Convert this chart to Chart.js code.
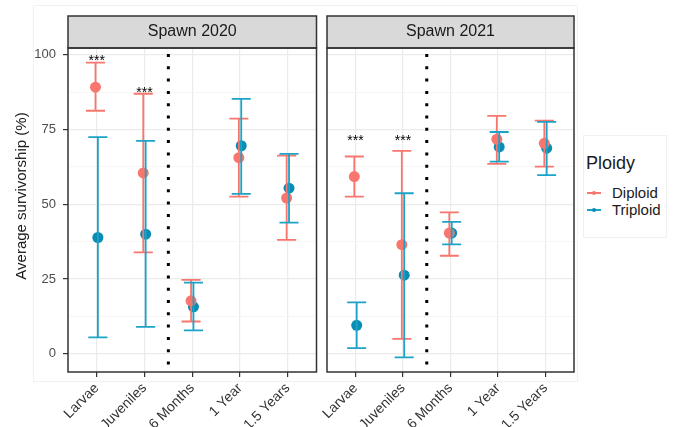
<!DOCTYPE html>
<html>
<head>
<meta charset="utf-8">
<script src="https://cdn.jsdelivr.net/npm/chart.js@4/dist/chart.umd.min.js"></script>
<style>
  body { margin: 0; background: #fff; width: 678px; height: 427px; overflow: hidden; position: relative;
         font-family: "Liberation Sans", Arial, sans-serif; }
  canvas { position: absolute; top: 0; }
  #c1 { left: 0; }
  #c2 { left: 259px; }
  #frame { position: absolute; left: 33px; top: 5px; width: 543px; height: 375px; border: 1px solid #f1f1f1; }
  #ytitle { position: absolute; left: -79px; top: 187px; width: 200px; text-align: center; font-size: 15px;
            color: #1a1a1a; transform: rotate(-90deg); line-height: 18px; }
  #legend { position: absolute; left: 583px; top: 135px; width: 82px; height: 101px; border: 1px solid #f1f1f1; }
  #legend .ttl { position: absolute; left: 2px; top: 17px; font-size: 18px; color: #1a1a1a; }
  #legend .row { position: absolute; left: 3px; height: 18px; width: 80px; }
  #legend .key { position: absolute; left: 0; top: 8px; width: 14px; height: 2px; }
  #legend .dot { position: absolute; left: 5px; top: 7px; width: 4px; height: 4px; border-radius: 50%; }
  #legend .lab { position: absolute; left: 25px; top: 0; font-size: 15px; color: #1a1a1a; line-height: 18px; }
</style>
</head>
<body>
<div id="frame"></div>
<canvas id="c1" width="322" height="427"></canvas>
<canvas id="c2" width="321" height="427"></canvas>
<div id="ytitle">Average survivorship (%)</div>
<div id="legend">
  <div class="ttl">Ploidy</div>
  <div class="row" style="top:48px"><div class="key" style="background:#F8766D"></div><div class="dot" style="background:#F8766D"></div><div class="lab">Diploid</div></div>
  <div class="row" style="top:65px"><div class="key" style="background:#1CA3C7"></div><div class="dot" style="background:#0A8DB5"></div><div class="lab">Triploid</div></div>
</div>
<script>
// categories and tick values
const stages = ['Larvae', 'Juveniles', '6 Months', '1 Year', '1.5 Years'];
const yTicks = [0, 12.5, 25, 37.5, 50, 62.5, 75, 87.5, 100];
const yMajor = [0, 25, 50, 75, 100];

// Spawn 2020 (mean, lower, upper)
const diploid2020   = [89.2, 60.5, 17.7, 65.6, 52.1];
const diploid2020Lo = [81.3, 33.9, 10.8, 52.6, 38.1];
const diploid2020Hi = [97.4, 87.0, 24.7, 78.7, 66.3];
const triploid2020   = [38.9, 40.0, 15.7, 69.6, 55.4];
const triploid2020Lo = [5.5, 9.0, 7.8, 53.5, 43.9];
const triploid2020Hi = [72.5, 71.2, 23.8, 85.3, 66.9];
const sig2020  = ['***', '***', '', '', ''];
const sigY2020 = [99.3, 88.6, 0, 0, 0];

// Spawn 2021
const diploid2021   = [59.3, 36.5, 40.4, 71.8, 70.4];
const diploid2021Lo = [52.6, 5.0, 32.8, 63.5, 62.6];
const diploid2021Hi = [66.0, 67.9, 47.3, 79.6, 78.0];
const triploid2021   = [9.5, 26.3, 40.4, 69.2, 68.8];
const triploid2021Lo = [1.9, -1.2, 36.6, 64.3, 59.8];
const triploid2021Hi = [17.2, 53.7, 44.1, 74.2, 77.6];
const sig2021  = ['***', '***', '', '', ''];
const sigY2021 = [72.6, 72.6, 0, 0, 0];

const RED = '#F8766D';
const BLUE = '#1CA3C7';
const BLUE_PT = '#0A8DB5';

// strip, border, dotted divider, error bars and stars
const panelDecor = {
  id: 'panelDecor',
  beforeDatasetsDraw(chart, args, opts) {
    const ctx = chart.ctx, a = chart.chartArea, x = chart.scales.x;
    const px = x.getPixelForValue(1.5);
    ctx.save();
    ctx.strokeStyle = '#000';
    ctx.lineWidth = 3;
    ctx.setLineDash([3, 9.3]);
    ctx.beginPath();
    ctx.moveTo(px, a.top + 6);
    ctx.lineTo(px, a.bottom);
    ctx.stroke();
    ctx.restore();
  },
  afterDatasetsDraw(chart, args, opts) {
    const ctx = chart.ctx, x = chart.scales.x, y = chart.scales.y;
    ctx.save();
    chart.data.datasets.forEach(ds => {
      ctx.strokeStyle = ds.borderColor;
      ctx.lineWidth = 1.8;
      ds.errLo.forEach((lo, i) => {
        const cx = x.getPixelForValue(i + ds.dodge);
        const hw = x.getPixelForValue(i + ds.dodge + 0.2) - cx;
        const y0 = y.getPixelForValue(lo), y1 = y.getPixelForValue(ds.errHi[i]);
        ctx.beginPath();
        ctx.moveTo(cx, y0); ctx.lineTo(cx, y1);
        ctx.moveTo(cx - hw, y0); ctx.lineTo(cx + hw, y0);
        ctx.moveTo(cx - hw, y1); ctx.lineTo(cx + hw, y1);
        ctx.stroke();
      });
    });
    ctx.fillStyle = '#000';
    ctx.font = '14px "Liberation Sans", Arial, sans-serif';
    ctx.textAlign = 'center';
    ctx.textBaseline = 'alphabetic';
    opts.sig.forEach((s, i) => {
      if (!s) return;
      ctx.fillText(s, x.getPixelForValue(i), y.getPixelForValue(opts.sigY[i]) + 8);
    });
    ctx.restore();
  },
  afterDraw(chart, args, opts) {
    const ctx = chart.ctx, a = chart.chartArea;
    ctx.save();
    ctx.strokeStyle = '#333';
    ctx.lineWidth = 1.5;
    ctx.fillStyle = '#D9D9D9';
    ctx.fillRect(a.left, a.top - 32, a.right - a.left, 32);
    ctx.strokeRect(a.left, a.top - 32, a.right - a.left, 32);
    ctx.strokeRect(a.left, a.top, a.right - a.left, a.bottom - a.top);
    ctx.fillStyle = '#1a1a1a';
    ctx.font = '16px "Liberation Sans", Arial, sans-serif';
    ctx.textAlign = 'center';
    ctx.textBaseline = 'middle';
    ctx.fillText(opts.title, (a.left + a.right) / 2, a.top - 16);
    ctx.restore();
  }
};

function series(label, vals, lo, hi, dodge, line, pt) {
  return {
    label: label,
    data: vals.map((v, i) => ({ x: i + dodge, y: v })),
    errLo: lo, errHi: hi, dodge: dodge,
    borderColor: line,
    backgroundColor: pt,
    pointBackgroundColor: pt,
    pointBorderWidth: 0,
    pointRadius: 5.5,
    showLine: false
  };
}

function makePanel(id, title, dip, dipLo, dipHi, tri, triLo, triHi, sig, sigY, showY, rightPad) {
  new Chart(document.getElementById(id), {
    type: 'scatter',
    data: {
      datasets: [
        series('Diploid', dip, dipLo, dipHi, -0.025, RED, RED),
        series('Triploid', tri, triLo, triHi, 0.025, BLUE, BLUE_PT)
      ]
    },
    options: {
      responsive: false,
      animation: false,
      layout: { padding: { top: 48, right: rightPad, left: 0, bottom: 0 } },
      plugins: {
        legend: { display: false },
        tooltip: { enabled: false },
        panelDecor: { title: title, sig: sig, sigY: sigY }
      },
      scales: {
        x: {
          type: 'linear',
          min: -0.6, max: 4.6,
          afterBuildTicks: s => { s.ticks = stages.map((_, i) => ({ value: i })); },
          afterFit: s => { s.height = 55; },
          border: { display: false },
          grid: { color: '#EBEBEB', lineWidth: 1.2, tickColor: '#333', tickLength: 5 },
          ticks: {
            autoSkip: false, minRotation: 45, maxRotation: 45, padding: 3,
            color: '#333',
            font: { family: '"Liberation Sans", Arial, sans-serif', size: 14 },
            callback: v => stages[v]
          }
        },
        y: {
          min: -6.1, max: 102.3,
          afterBuildTicks: s => { s.ticks = yTicks.map(v => ({ value: v })); },
          afterFit: s => { s.width = 68; },
          border: { display: false },
          grid: {
            color: c => yMajor.includes(c.tick.value) ? '#EBEBEB' : '#F4F4F4',
            lineWidth: c => yMajor.includes(c.tick.value) ? 1.2 : 0.8,
            tickColor: c => (showY && yMajor.includes(c.tick.value)) ? '#333' : 'rgba(0,0,0,0)',
            tickLength: 5
          },
          ticks: {
            padding: 7,
            color: '#4D4D4D',
            font: { family: '"Liberation Sans", Arial, sans-serif', size: 13 },
            callback: v => (showY && yMajor.includes(v)) ? String(v) : ''
          }
        }
      }
    },
    plugins: [panelDecor]
  });
}

makePanel('c1', 'Spawn 2020', diploid2020, diploid2020Lo, diploid2020Hi,
          triploid2020, triploid2020Lo, triploid2020Hi, sig2020, sigY2020, true, 5);
makePanel('c2', 'Spawn 2021', diploid2021, diploid2021Lo, diploid2021Hi,
          triploid2021, triploid2021Lo, triploid2021Hi, sig2021, sigY2021, false, 6);
</script>
</body>
</html>
